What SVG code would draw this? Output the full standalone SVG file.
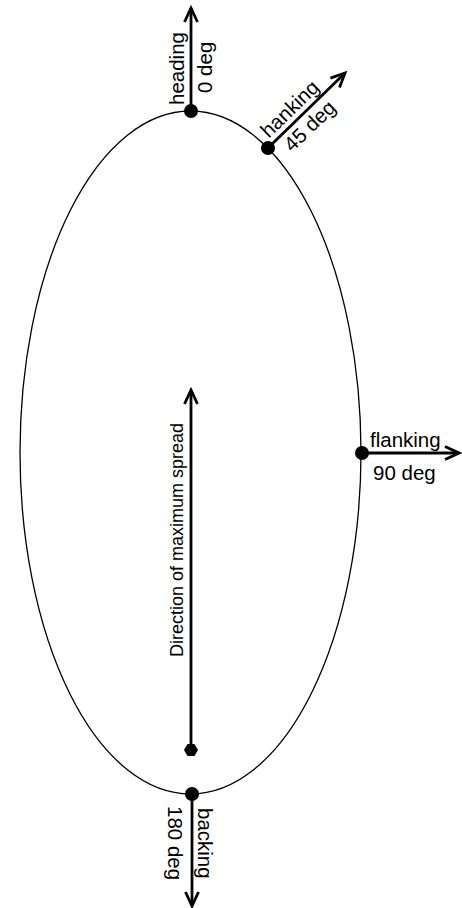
<svg xmlns="http://www.w3.org/2000/svg" width="462" height="908" viewBox="0 0 462 908">
<style>
.lbl{font-family:"Liberation Sans",Arial,sans-serif;font-size:20.5px;fill:#000}
.dir{font-family:"Liberation Sans",Arial,sans-serif;font-size:18px;fill:#000}
.arr{stroke:#000;stroke-width:2.8;fill:none;marker-end:url(#ah)}
</style>
<defs>
<marker id="ah" markerUnits="userSpaceOnUse" markerWidth="30" markerHeight="30" refX="0" refY="0" viewBox="-20 -15 30 30" orient="auto">
<path d="M-14,-6.5 L0,0 L-14,6.5" fill="none" stroke="#000" stroke-width="2.8" stroke-linejoin="miter"/>
</marker>
</defs>
<rect width="462" height="908" fill="#fff"/>
<g id="fire-ellipse">
<ellipse cx="190.5" cy="452.5" rx="170.5" ry="341.5" fill="none" stroke="#000" stroke-width="1.3"/>
</g>
<g id="connectors">
<line class="arr" x1="191" y1="111" x2="191" y2="8"/>
<line class="arr" x1="268" y1="148" x2="345" y2="73"/>
<line class="arr" x1="362" y1="453" x2="459" y2="453"/>
<line class="arr" x1="192" y1="794" x2="192" y2="906"/>
<line class="arr" x1="191" y1="750" x2="191" y2="390"/>
</g>
<g id="heading">
<circle cx="191" cy="111" r="7"/>
<text class="lbl" transform="translate(184,105) rotate(-90)">heading</text>
<text class="lbl" transform="translate(212,93) rotate(-90)">0 deg</text>
</g>
<g id="hanking">
<circle cx="268" cy="148" r="7"/>
<text class="lbl" transform="translate(268,148) rotate(-44)" x="7" y="-6">hanking</text>
<text class="lbl" transform="translate(268,148) rotate(-44)" x="14" y="20">45 deg</text>
</g>
<g id="flanking">
<circle cx="362" cy="453" r="7"/>
<text class="lbl" x="370" y="447">flanking</text>
<text class="lbl" x="373" y="480">90 deg</text>
</g>
<g id="backing">
<circle cx="192" cy="794" r="7"/>
<text class="lbl" transform="translate(198,808) rotate(90)">backing</text>
<text class="lbl" transform="translate(168,806) rotate(90)">180 deg</text>
</g>
<g id="direction">
<polygon points="198,750 194.5,756 187.5,756 184,750 187.5,744 194.5,744" fill="#000"/>
<text class="dir" transform="translate(183,657) rotate(-90)">Direction of maximum spread</text>
</g>
</svg>
